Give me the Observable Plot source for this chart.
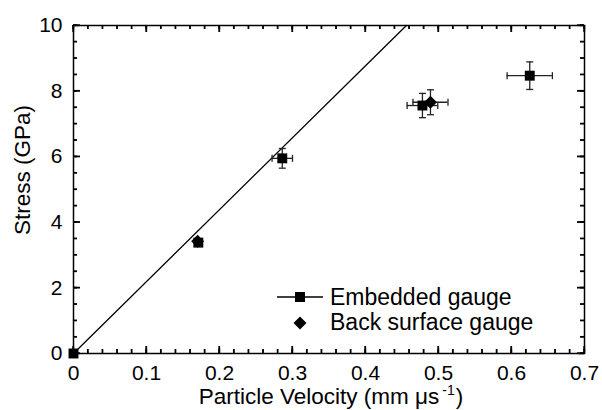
<!DOCTYPE html>
<html><head><meta charset="utf-8">
<script src="https://cdn.jsdelivr.net/npm/d3@7"></script>
<script src="https://cdn.jsdelivr.net/npm/@observablehq/plot@0.6"></script>
<style>
body{margin:0;background:#fff;}
#wrap{position:relative;width:602px;height:410px;font-family:"Liberation Sans",Arial,sans-serif;color:#000;}
.lbl{position:absolute;white-space:nowrap;line-height:23px;}
</style></head><body><div id="wrap"></div>
<script>
// Data
const embX = [0, 0.171, 0.286, 0.478, 0.625];
const embY = [0, 3.38, 5.95, 7.56, 8.47];
const embXErr = [0, 0, 0.014, 0.021, 0.031];
const embYErr = [0, 0, 0.30, 0.37, 0.42];
const backX = [0.170, 0.489];
const backY = [3.42, 7.66];
const backXErr = [0, 0.024];
const backYErr = [0, 0.38];
const fitX = [0, 0.456];
const fitY = [0, 10];
const xTicks = [0, 0.1, 0.2, 0.3, 0.4, 0.5, 0.6, 0.7];
const xTickLabels = ["0", "0.1", "0.2", "0.3", "0.4", "0.5", "0.6", "0.7"];
const yTicks = [0, 2, 4, 6, 8, 10];
const yTickLabels = ["0", "2", "4", "6", "8", "10"];
const xMinor = d3.range(0, 36).map(i => i / 50);
const yMinor = d3.range(0, 21).map(i => i / 2);
const seriesNames = ["Embedded gauge", "Back surface gauge"];
const xLabel = "Particle Velocity (mm μs";
const xLabelSup = "-1";
const yLabel = "Stress (GPa)";

const W = 602, H = 410, ML = 73, MR = 18, MT = 25, MB = 57;
const FW = W - ML - MR, FH = H - MT - MB;
const X0 = 0, X1 = 0.7, Y0 = 0, Y1 = 10;

const emb = embX.map((x, i) => ({x, y: embY[i], xe: embXErr[i], ye: embYErr[i]}));
const back = backX.map((x, i) => ({x, y: backY[i], xe: backXErr[i], ye: backYErr[i]}));
const all = emb.concat(back);
const vErr = all.filter(d => d.ye > 0);
const hErr = all.filter(d => d.xe > 0);
const hCaps = vErr.flatMap(d => [{x: d.x, y: d.y - d.ye}, {x: d.x, y: d.y + d.ye}]);
const vCaps = hErr.flatMap(d => [{x: d.x - d.xe, y: d.y}, {x: d.x + d.xe, y: d.y}]);
const fit = fitX.map((x, i) => ({x, y: fitY[i]}));

const capH = {draw(ctx) { ctx.moveTo(-3.5, 0); ctx.lineTo(3.5, 0); }};
const capV = {draw(ctx) { ctx.moveTo(0, -3.5); ctx.lineTo(0, 3.5); }};

// inward tick marks as short rules (tick length converted from pixels to data units)
const pyU = (Y1 - Y0) / FH, pxU = (X1 - X0) / FW;
const vTickRows = [];
for (const [vals, len] of [[xMinor, 4], [xTicks, 7]]) {
  for (const v of vals) {
    vTickRows.push({x: v, a: Y0, b: Y0 + len * pyU, len, edge: "bottom"});
    vTickRows.push({x: v, a: Y1 - len * pyU, b: Y1, len, edge: "top"});
  }
}
const hTickRows = [];
for (const [vals, len] of [[yMinor, 4], [yTicks, 7]]) {
  for (const v of vals) {
    hTickRows.push({y: v, a: X0, b: X0 + len * pxU, len, edge: "left"});
    hTickRows.push({y: v, a: X1 - len * pxU, b: X1, len, edge: "right"});
  }
}

const plot = Plot.plot({
  width: W, height: H,
  marginLeft: ML, marginRight: MR, marginTop: MT, marginBottom: MB,
  style: {fontFamily: "'Liberation Sans', Arial, sans-serif", fontSize: "21px", color: "black", background: "white", overflow: "visible"},
  x: {domain: [X0, X1]},
  y: {domain: [Y0, Y1]},
  marks: [
    Plot.axisX(xTicks, {anchor: "bottom", tickSize: 0, tickPadding: 12, fontSize: 21,
      tickFormat: d => xTickLabels[xTicks.indexOf(d)], label: null}),
    Plot.axisY(yTicks, {anchor: "left", tickSize: 0, tickPadding: 11, fontSize: 21,
      tickFormat: d => yTickLabels[yTicks.indexOf(d)], label: null}),
    Plot.frame({stroke: "black", strokeWidth: 1.5}),
    Plot.ruleX(vTickRows, {x: "x", y1: "a", y2: "b", stroke: "#111", strokeWidth: 1.3}),
    Plot.ruleY(hTickRows, {y: "y", x1: "a", x2: "b", stroke: "#111", strokeWidth: 1.3}),
    Plot.line(fit, {x: "x", y: "y", stroke: "black", strokeWidth: 1.3}),
    Plot.ruleX(vErr, {x: "x", y1: d => d.y - d.ye, y2: d => d.y + d.ye, stroke: "#222", strokeWidth: 1.3}),
    Plot.ruleY(hErr, {y: "y", x1: d => d.x - d.xe, x2: d => d.x + d.xe, stroke: "#222", strokeWidth: 1.3}),
    Plot.dot(hCaps, {x: "x", y: "y", symbol: capH, r: 3, stroke: "#222", strokeWidth: 1.3, fill: "none"}),
    Plot.dot(vCaps, {x: "x", y: "y", symbol: capV, r: 3, stroke: "#222", strokeWidth: 1.3, fill: "none"}),
    Plot.dot(emb, {x: "x", y: "y", symbol: "square", r: 5.6, fill: "black", stroke: "none"}),
    Plot.dot(back, {x: "x", y: "y", symbol: "diamond2", r: 5.85, fill: "black", stroke: "none"})
  ]
});

const wrap = document.getElementById("wrap");
wrap.appendChild(plot);

// overlay of the same inward ticks, positioned with Plot's own x/y scales
const ns = "http://www.w3.org/2000/svg";
const sx = plot.scale("x"), sy = plot.scale("y");
const ov = document.createElementNS(ns, "svg");
ov.setAttribute("width", W); ov.setAttribute("height", H);
Object.assign(ov.style, {position: "absolute", left: "0px", top: "0px", pointerEvents: "none"});
function seg(x1, y1, x2, y2) {
  const l = document.createElementNS(ns, "line");
  l.setAttribute("x1", x1); l.setAttribute("y1", y1); l.setAttribute("x2", x2); l.setAttribute("y2", y2);
  l.setAttribute("stroke", "black"); l.setAttribute("stroke-width", 1.3);
  ov.appendChild(l);
}
for (const r of vTickRows) {
  const px = sx.apply(r.x);
  const py = r.edge === "bottom" ? sy.apply(Y0) : sy.apply(Y1);
  seg(px, py, px, r.edge === "bottom" ? py - r.len : py + r.len);
}
for (const r of hTickRows) {
  const py = sy.apply(r.y);
  const px = r.edge === "left" ? sx.apply(X0) : sx.apply(X1);
  seg(px, py, r.edge === "left" ? px + r.len : px - r.len, py);
}
wrap.appendChild(ov);

function addDiv(html, css) {
  const d = document.createElement("div");
  d.className = "lbl";
  d.innerHTML = html;
  Object.assign(d.style, css);
  wrap.appendChild(d);
  return d;
}
// axis labels
const xl = addDiv("", {left: "331px", top: "379px", fontSize: "22.5px", transform: "translateX(-50%)"});
xl.textContent = xLabel;
const sup = document.createElement("span");
sup.textContent = xLabelSup;
Object.assign(sup.style, {fontSize: "14px", verticalAlign: "9px", marginLeft: "3px", marginRight: "1px"});
xl.appendChild(sup);
xl.appendChild(document.createTextNode(")"));
const yl = addDiv("", {left: "22px", top: "170px", fontSize: "22.5px", transform: "translate(-50%,-50%) rotate(-90deg)"});
yl.textContent = yLabel;

// legend
function legendSymbol(kind, left, top) {
  const s = document.createElementNS(ns, "svg");
  s.setAttribute("width", 46); s.setAttribute("height", 20);
  Object.assign(s.style, {position: "absolute", left: left + "px", top: top + "px"});
  if (kind === "square") {
    const l = document.createElementNS(ns, "line");
    l.setAttribute("x1", 0); l.setAttribute("x2", 46); l.setAttribute("y1", 10); l.setAttribute("y2", 10);
    l.setAttribute("stroke", "black"); l.setAttribute("stroke-width", 1.3);
    s.appendChild(l);
    const r = document.createElementNS(ns, "rect");
    r.setAttribute("x", 18); r.setAttribute("y", 5); r.setAttribute("width", 10); r.setAttribute("height", 10);
    s.appendChild(r);
  } else {
    const p = document.createElementNS(ns, "path");
    p.setAttribute("d", "M23,3.5L29.5,10L23,16.5L16.5,10Z");
    s.appendChild(p);
  }
  wrap.appendChild(s);
}
legendSymbol("square", 277, 287);
legendSymbol("diamond", 277, 313);
addDiv("", {left: "330px", top: "285.5px", fontSize: "23px"}).textContent = seriesNames[0];
addDiv("", {left: "330px", top: "310.5px", fontSize: "23px"}).textContent = seriesNames[1];
</script></body></html>
